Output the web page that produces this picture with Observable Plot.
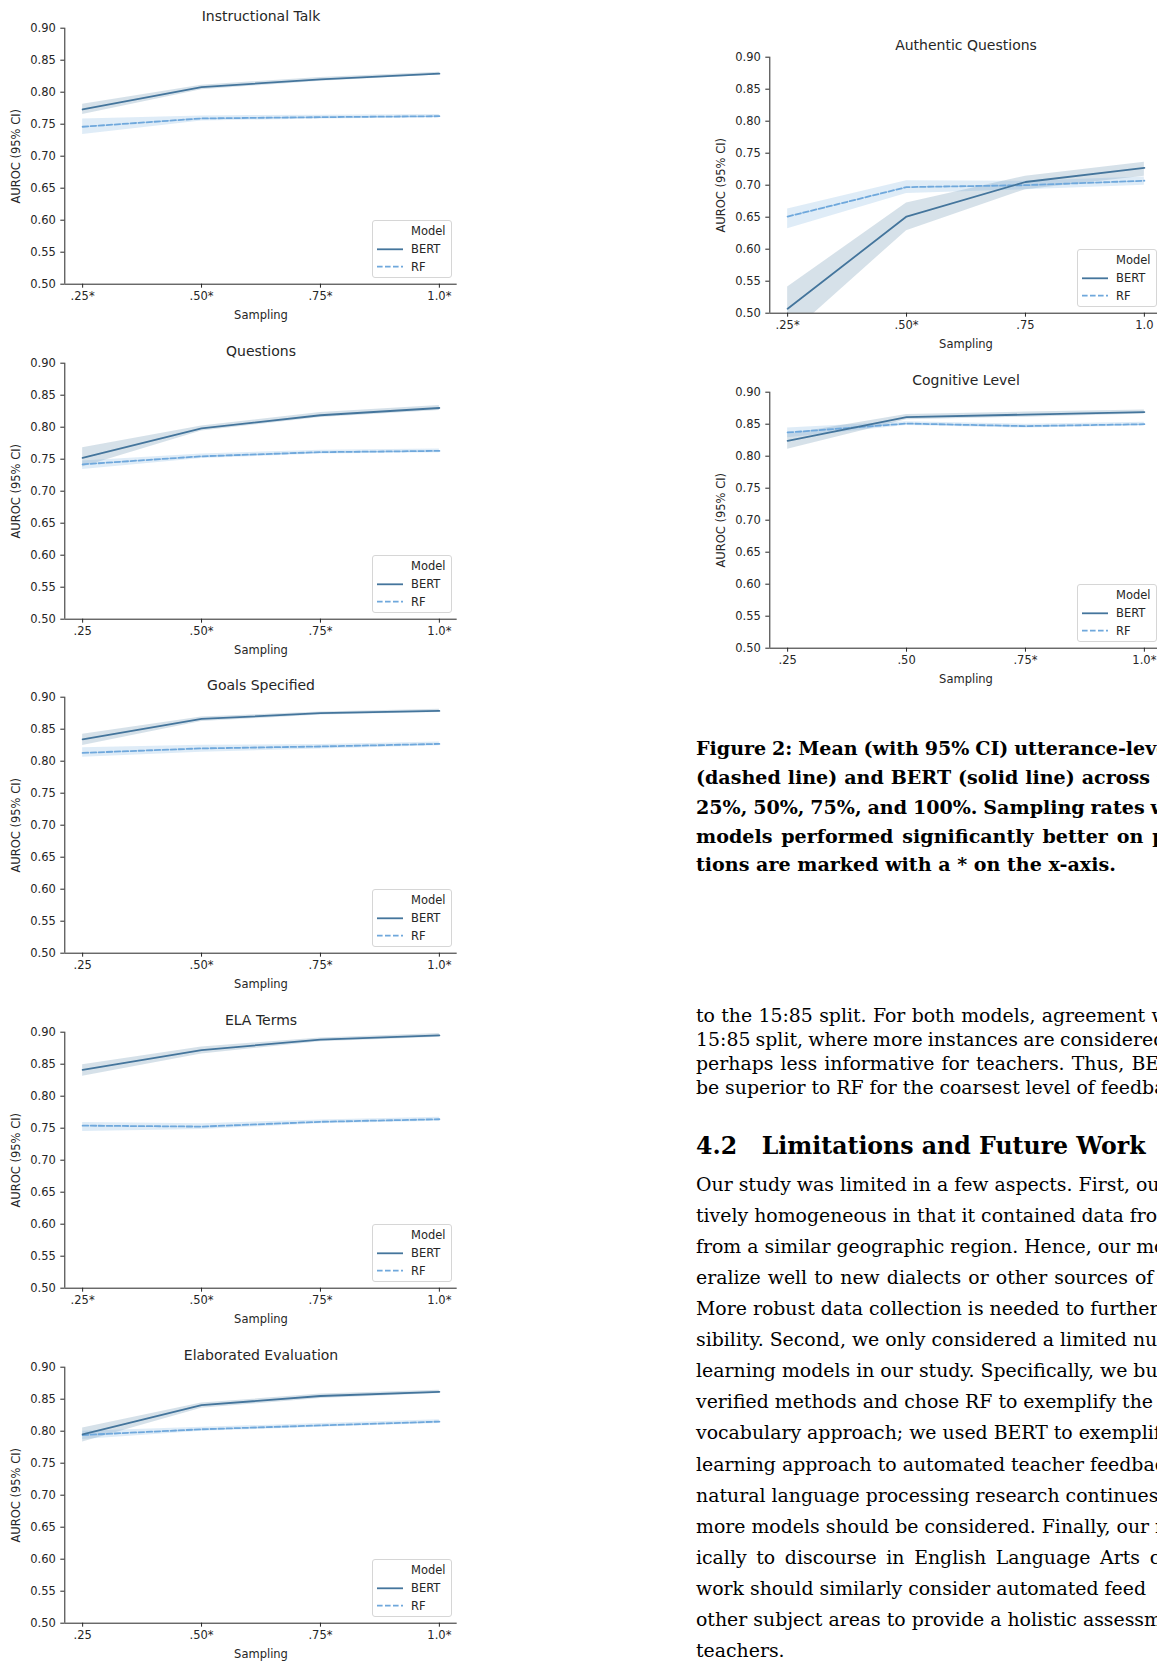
<!DOCTYPE html>
<html>
<head>
<meta charset="utf-8">
<script src="https://cdn.jsdelivr.net/npm/d3@7"></script>
<script src="https://cdn.jsdelivr.net/npm/@observablehq/plot@0.6"></script>
<style>
  html, body { margin: 0; padding: 0; background: #fff; }
  body { width: 1157px; height: 1661px; overflow: hidden; position: relative; }
  .chart { position: absolute; width: 470px; height: 330px; }
  .chart svg { position: absolute; left: 0; top: 0; }
  .legend { position: absolute; left: 372px; top: 220px; width: 80px; height: 58px;
            box-sizing: border-box; border: 1px solid #d6d6d6; border-radius: 3px; background: rgba(255,255,255,0.85); }
  .txt { position: absolute; white-space: nowrap; line-height: 1; color: #000; }
</style>
</head>
<body>
<script>
// ---------- data ----------
const sampling = [0.25, 0.50, 0.75, 1.00];
const models = ["BERT", "RF"];
const modelColors = ["#44759c", "#6fa8dc"];
const yTicks = [0.50, 0.55, 0.60, 0.65, 0.70, 0.75, 0.80, 0.85, 0.90];
const xDomain = [0.2125, 1.0375];
const yDomain = [0.50, 0.90];

// Instructional Talk
const itLabels  = [".25*", ".50*", ".75*", "1.0*"];
const itBert    = [0.773, 0.808, 0.820, 0.829];
const itBertLo  = [0.765, 0.804, 0.817, 0.827];
const itBertHi  = [0.781, 0.811, 0.823, 0.831];
const itRf      = [0.746, 0.759, 0.761, 0.7625];
const itRfLo    = [0.734, 0.755, 0.758, 0.760];
const itRfHi    = [0.758, 0.763, 0.764, 0.765];

// Questions
const qLabels   = [".25", ".50*", ".75*", "1.0*"];
const qBert     = [0.752, 0.798, 0.8187, 0.830];
const qBertLo   = [0.738, 0.794, 0.815, 0.826];
const qBertHi   = [0.768, 0.802, 0.823, 0.834];
const qRf       = [0.742, 0.7545, 0.761, 0.763];
const qRfLo     = [0.734, 0.751, 0.758, 0.760];
const qRfHi     = [0.747, 0.758, 0.764, 0.766];

// Goals Specified
const gsLabels  = [".25", ".50*", ".75*", "1.0*"];
const gsBert    = [0.834, 0.866, 0.875, 0.8786];
const gsBertLo  = [0.8245, 0.862, 0.872, 0.876];
const gsBertHi  = [0.842, 0.869, 0.877, 0.881];
const gsRf      = [0.813, 0.820, 0.823, 0.827];
const gsRfLo    = [0.806, 0.814, 0.819, 0.824];
const gsRfHi    = [0.821, 0.825, 0.826, 0.830];

// ELA Terms
const elaLabels = [".25*", ".50*", ".75*", "1.0*"];
const elaBert   = [0.841, 0.872, 0.8885, 0.895];
const elaBertLo = [0.831, 0.866, 0.885, 0.892];
const elaBertHi = [0.849, 0.877, 0.891, 0.898];
const elaRf     = [0.754, 0.7525, 0.760, 0.764];
const elaRfLo   = [0.745, 0.748, 0.757, 0.761];
const elaRfHi   = [0.759, 0.757, 0.763, 0.767];

// Elaborated Evaluation
const eeLabels  = [".25", ".50*", ".75*", "1.0*"];
const eeBert    = [0.795, 0.8406, 0.855, 0.8615];
const eeBertLo  = [0.783, 0.836, 0.851, 0.859];
const eeBertHi  = [0.805, 0.844, 0.858, 0.864];
const eeRf      = [0.794, 0.803, 0.809, 0.815];
const eeRfLo    = [0.787, 0.800, 0.806, 0.812];
const eeRfHi    = [0.800, 0.806, 0.812, 0.818];

// Authentic Questions
const aqLabels  = [".25*", ".50*", ".75", "1.0"];
const aqBert    = [0.507, 0.651, 0.705, 0.727];
const aqBertLo  = [0.463, 0.629, 0.693, 0.714];
const aqBertHi  = [0.541, 0.672, 0.714, 0.736];
const aqRf      = [0.651, 0.697, 0.700, 0.707];
const aqRfLo    = [0.632, 0.687, 0.693, 0.700];
const aqRfHi    = [0.663, 0.707, 0.706, 0.713];

// Cognitive Level
const clLabels  = [".25", ".50", ".75*", "1.0*"];
const clBert    = [0.824, 0.861, 0.865, 0.869];
const clBertLo  = [0.811, 0.857, 0.861, 0.866];
const clBertHi  = [0.834, 0.865, 0.869, 0.872];
const clRf      = [0.837, 0.851, 0.847, 0.850];
const clRfLo    = [0.829, 0.848, 0.844, 0.847];
const clRfHi    = [0.844, 0.854, 0.850, 0.853];

const panels = [
  {title: "Instructional Talk",    labels: itLabels,  bert: [itBert, itBertLo, itBertHi],    rf: [itRf, itRfLo, itRfHi],    left: 0,   top: 0},
  {title: "Questions",             labels: qLabels,   bert: [qBert, qBertLo, qBertHi],       rf: [qRf, qRfLo, qRfHi],       left: 0,   top: 334.5},
  {title: "Goals Specified",       labels: gsLabels,  bert: [gsBert, gsBertLo, gsBertHi],    rf: [gsRf, gsRfLo, gsRfHi],    left: 0,   top: 669},
  {title: "ELA Terms",             labels: elaLabels, bert: [elaBert, elaBertLo, elaBertHi], rf: [elaRf, elaRfLo, elaRfHi], left: 0,   top: 1004},
  {title: "Elaborated Evaluation", labels: eeLabels,  bert: [eeBert, eeBertLo, eeBertHi],    rf: [eeRf, eeRfLo, eeRfHi],    left: 0,   top: 1339},
  {title: "Authentic Questions",   labels: aqLabels,  bert: [aqBert, aqBertLo, aqBertHi],    rf: [aqRf, aqRfLo, aqRfHi],    left: 705, top: 29},
  {title: "Cognitive Level",       labels: clLabels,  bert: [clBert, clBertLo, clBertHi],    rf: [clRf, clRfLo, clRfHi],    left: 705, top: 364}
];

// ---------- charts ----------
function rowsFor(model, arrs) {
  return sampling.map((s, i) => ({s, model, mean: arrs[0][i], lo: arrs[1][i], hi: arrs[2][i]}));
}

for (const p of panels) {
  const bertRows = rowsFor("BERT", p.bert);
  const rfRows = rowsFor("RF", p.rf);
  const labelMap = new Map(sampling.map((s, i) => [s, p.labels[i]]));
  const svg = Plot.plot({
    width: 470, height: 330,
    marginLeft: 64.3, marginRight: 13.3, marginTop: 27.7, marginBottom: 46.3,
    style: {fontFamily: "DejaVu Sans", fontSize: "11.5px", color: "#262626", background: "transparent", overflow: "visible"},
    x: {domain: xDomain},
    y: {domain: yDomain},
    color: {domain: models, range: modelColors},
    marks: [
      Plot.areaY(bertRows, {x: "s", y1: "lo", y2: "hi", fill: "model", fillOpacity: 0.22, clip: true}),
      Plot.areaY(rfRows, {x: "s", y1: "lo", y2: "hi", fill: "model", fillOpacity: 0.22, clip: true}),
      Plot.lineY(rfRows, {x: "s", y: "mean", stroke: "model", strokeWidth: 1.8, strokeDasharray: "5.6,2.4", clip: true}),
      Plot.lineY(bertRows, {x: "s", y: "mean", stroke: "model", strokeWidth: 1.8, clip: true}),
      Plot.ruleX([xDomain[0]], {stroke: "#262626", strokeWidth: 1}),
      Plot.ruleY([yDomain[0]], {stroke: "#262626", strokeWidth: 1}),
      Plot.axisX({ticks: sampling, tickFormat: d => labelMap.get(d), tickSize: 4, tickPadding: 4,
                  label: "Sampling", labelAnchor: "center", labelArrow: "none", labelOffset: 35}),
      Plot.axisY({ticks: yTicks, tickFormat: d3.format(".2f"), tickSize: 4, tickPadding: 5,
                  label: "AUROC (95% CI)", labelAnchor: "center", labelArrow: "none", labelOffset: 53}),
      Plot.text([p.title], {frameAnchor: "top", lineAnchor: "middle", dy: -12, fontSize: 14, fill: "#262626"})
    ]
  });
  const div = document.createElement("div");
  div.className = "chart";
  div.style.left = p.left + "px";
  div.style.top = p.top + "px";
  div.appendChild(svg);
  // legend
  const lg = document.createElement("div");
  lg.className = "legend";
  lg.innerHTML =
    `<svg width="80" height="58" style="position:absolute;left:-1px;top:-1px;font-family:'DejaVu Sans';font-size:11.5px;fill:#262626">
       <text x="39" y="11" dy="0.35em">Model</text>
       <line x1="5" x2="31" y1="29.3" y2="29.3" stroke="${modelColors[0]}" stroke-width="1.8"/>
       <text x="39" y="29.3" dy="0.35em">${models[0]}</text>
       <line x1="5" x2="31" y1="46.7" y2="46.7" stroke="${modelColors[1]}" stroke-width="1.8" stroke-dasharray="5.6,2.4"/>
       <text x="39" y="46.7" dy="0.35em">${models[1]}</text>
     </svg>`;
  div.appendChild(lg);
  document.body.appendChild(div);
}

// ---------- text ----------
const canvas = document.createElement("canvas");
const ctx = canvas.getContext("2d");
function measure(text, font) { ctx.font = font; return ctx.measureText(text).width; }
const SERIF = "'DejaVu Serif'";
const X0 = 696;

function fitSize(text, target, weight) {
  return 100 * target / measure(text, `${weight} 100px ${SERIF}`);
}

function placeLine(line, size, weight) {
  const font = `${weight} ${size}px ${SERIF}`;
  const d = document.createElement("div");
  d.className = "txt";
  d.style.font = font;
  d.style.lineHeight = "1";
  d.style.left = (line.x ?? X0) + "px";
  d.style.top = (line.y - 0.6 * size) + "px";
  if (line.anchor) {
    const idx = line.text.lastIndexOf(line.anchor);
    const prefix = line.text.slice(0, idx);
    const n = prefix.split(" ").length - 1;
    const w = measure(prefix, font);
    if (n > 0) {
      const ws = Math.max(-0.8, Math.min(8, (line.ax - (line.x ?? X0) - w) / n));
      d.style.wordSpacing = ws + "px";
    }
  }
  d.textContent = line.text;
  document.body.appendChild(d);
}

const captionSize = fitSize("tions are marked with a * on the x-axis.", 420, "bold");
const captionLines = [
  {text: "Figure 2: Mean (with 95% CI) utterance-level AUROC for RF", y: 750, anchor: "utterance", ax: 1010},
  {text: "(dashed line) and BERT (solid line) across sampling rates of", y: 779.3, anchor: "across", ax: 1081.7},
  {text: "25%, 50%, 75%, and 100%. Sampling rates where both", y: 809.3, anchor: "Sampling", ax: 973.3},
  {text: "models performed significantly better on predic-", y: 838.3, anchor: "on", ax: 1116.7},
  {text: "tions are marked with a * on the x-axis.", y: 866.7}
];
captionLines.forEach(l => placeLine(l, captionSize, "bold"));

const bodySize = fitSize("15:85 split, where more instances are ", 369, "normal");
const para1 = [
  {text: "to the 15:85 split. For both models, agreement was higher", y: 1017, anchor: "agreement", ax: 1041.7},
  {text: "15:85 split, where more instances are considered", y: 1041.2, anchor: "considered", ax: 1058.3},
  {text: "perhaps less informative for teachers. Thus, BERT", y: 1065.4, anchor: "Thus,", ax: 1071.7},
  {text: "be superior to RF for the coarsest level of feedback", y: 1089.6, anchor: "feedback", ax: 1100.7}
];
para1.forEach(l => placeLine(l, bodySize, "normal"));

const headSize = fitSize("Limitations and Future Work", 384, "bold");
placeLine({text: "4.2", y: 1149, x: 696}, headSize, "bold");
placeLine({text: "Limitations and Future Work", y: 1149, x: 761.7}, headSize, "bold");

const para2 = [
  {text: "Our study was limited in a few aspects. First, our"},
  {text: "tively homogeneous in that it contained data from"},
  {text: "from a similar geographic region. Hence, our models"},
  {text: "eralize well to new dialects or other sources of", anchor: "of", ax: 1135},
  {text: "More robust data collection is needed to further"},
  {text: "sibility. Second, we only considered a limited number"},
  {text: "learning models in our study. Specifically, we built"},
  {text: "verified methods and chose RF to exemplify the"},
  {text: "vocabulary approach; we used BERT to exemplify"},
  {text: "learning approach to automated teacher feedback"},
  {text: "natural language processing research continues"},
  {text: "more models should be considered. Finally, our re"},
  {text: "ically to discourse in English Language Arts c", anchor: " c", ax: 1140},
  {text: "work should similarly consider automated feed"},
  {text: "other subject areas to provide a holistic assessment"},
  {text: "teachers."}
];
para2.forEach((l, i) => placeLine({...l, y: 1186 + i * 31.1}, bodySize, "normal"));
</script>
</body>
</html>
